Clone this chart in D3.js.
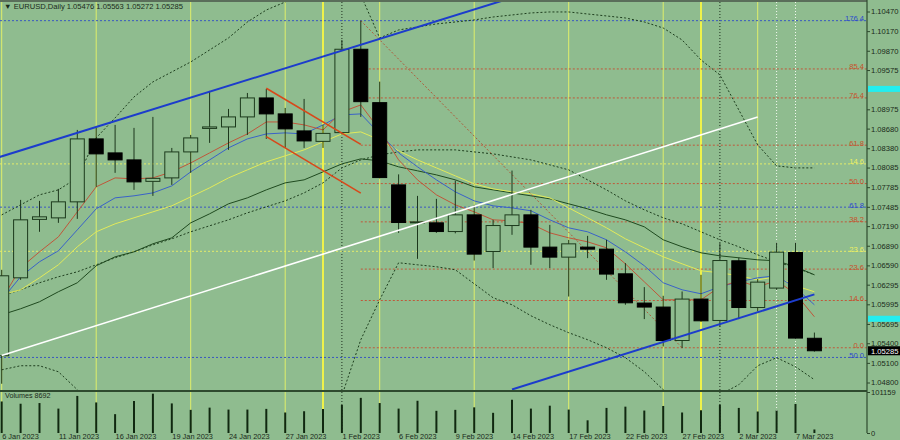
<!DOCTYPE html>
<html><head><meta charset="utf-8">
<script src="https://cdn.jsdelivr.net/npm/d3@7"></script>
<style>body{margin:0;background:#8fbc8f;overflow:hidden}svg{display:block}text{font-family:"Liberation Sans",Arial,sans-serif}</style>
</head><body><svg id="c" width="900" height="440"></svg>
<script>
// ---------- data ----------
const dates = ['6 Jan 2023','9 Jan 2023','10 Jan 2023','11 Jan 2023','12 Jan 2023','13 Jan 2023','16 Jan 2023','17 Jan 2023','18 Jan 2023','19 Jan 2023','20 Jan 2023','23 Jan 2023','24 Jan 2023','25 Jan 2023','26 Jan 2023','27 Jan 2023','30 Jan 2023','31 Jan 2023','1 Feb 2023','2 Feb 2023','3 Feb 2023','6 Feb 2023','7 Feb 2023','8 Feb 2023','9 Feb 2023','10 Feb 2023','13 Feb 2023','14 Feb 2023','15 Feb 2023','16 Feb 2023','17 Feb 2023','20 Feb 2023','21 Feb 2023','22 Feb 2023','23 Feb 2023','24 Feb 2023','27 Feb 2023','28 Feb 2023','1 Mar 2023','2 Mar 2023','3 Mar 2023','6 Mar 2023','7 Mar 2023','8 Mar 2023'];
const open  = [1.05209,1.06400,1.07293,1.07316,1.07561,1.08523,1.08309,1.08202,1.07874,1.07927,1.08324,1.08683,1.08706,1.08859,1.09149,1.08905,1.08645,1.08485,1.08619,1.09893,1.09077,1.07820,1.07248,1.07240,1.07107,1.07362,1.06802,1.07199,1.07362,1.06869,1.06716,1.06869,1.06838,1.06461,1.06014,1.05953,1.05442,1.06075,1.05748,1.06660,1.05946,1.06243,1.06786,1.05476];
const high  = [1.06522,1.07591,1.07576,1.07759,1.08660,1.08691,1.08737,1.08691,1.08859,1.08385,1.08584,1.09256,1.08981,1.09225,1.09286,1.08996,1.09134,1.08737,1.10035,1.10330,1.09398,1.07981,1.07652,1.07607,1.07886,1.07515,1.07286,1.08039,1.07439,1.07209,1.06980,1.07041,1.06980,1.06625,1.06258,1.06125,1.06191,1.06446,1.06930,1.06710,1.06380,1.06939,1.06939,1.05563];
const low   = [1.04781,1.06369,1.07103,1.07240,1.07301,1.07790,1.08004,1.07744,1.07652,1.07820,1.08004,1.08462,1.08355,1.08584,1.08523,1.08385,1.08385,1.08385,1.08599,1.08859,1.07920,1.07087,1.06690,1.07087,1.07080,1.06664,1.06548,1.07057,1.06599,1.06548,1.06114,1.06701,1.06369,1.05988,1.05769,1.05351,1.05326,1.05728,1.05656,1.05769,1.05885,1.06217,1.05468,1.05272];
const close = [1.06431,1.07286,1.07332,1.07561,1.08523,1.08294,1.08202,1.07866,1.07920,1.08324,1.08538,1.08706,1.08859,1.09149,1.08905,1.08676,1.08492,1.08607,1.09893,1.09092,1.07932,1.07245,1.07255,1.07107,1.07362,1.06762,1.07199,1.07362,1.06869,1.06716,1.06919,1.06838,1.06457,1.06018,1.05953,1.05442,1.06075,1.05743,1.06664,1.05946,1.06334,1.06792,1.05479,1.05285];
const volume = [77800,72200,73900,60200,91500,75400,46500,78700,97000,73000,57100,62600,57800,57800,59500,50600,53700,59500,69100,86700,73900,60200,79500,54700,57100,63300,49800,81900,60200,67400,57800,31300,61900,65000,55400,66700,50600,56100,69800,61900,53000,55400,71500,8692];

const maRed    = [1.06064,1.06553,1.06797,1.07026,1.07408,1.07790,1.07927,1.07912,1.07927,1.08019,1.08156,1.08309,1.08462,1.08599,1.08782,1.08782,1.08737,1.08660,1.08935,1.09042,1.08660,1.08202,1.07897,1.07668,1.07515,1.07408,1.07286,1.07271,1.07225,1.07087,1.07011,1.06950,1.06858,1.06614,1.06339,1.06064,1.06064,1.06064,1.06263,1.06355,1.06263,1.06355,1.06156,1.05805];
const maBlue   = [1.06064,1.06416,1.06645,1.06813,1.07133,1.07454,1.07622,1.07653,1.07698,1.07805,1.08019,1.08202,1.08386,1.08523,1.08599,1.08615,1.08599,1.08737,1.08890,1.08905,1.08599,1.08309,1.08096,1.07897,1.07714,1.07576,1.07500,1.07469,1.07424,1.07286,1.07164,1.07103,1.06981,1.06797,1.06584,1.06324,1.06217,1.06156,1.06263,1.06339,1.06400,1.06431,1.06248,1.05988];
const maYellow = [1.06141,1.06217,1.06400,1.06599,1.06874,1.07103,1.07225,1.07317,1.07408,1.07500,1.07637,1.07775,1.07927,1.08050,1.08172,1.08264,1.08355,1.08477,1.08599,1.08630,1.08508,1.08340,1.08202,1.08080,1.07958,1.07836,1.07760,1.07714,1.07683,1.07622,1.07469,1.07317,1.07164,1.06996,1.06858,1.06721,1.06614,1.06507,1.06477,1.06431,1.06370,1.06416,1.06278,1.06187];
const maGreen  = [1.05835,1.05927,1.06034,1.06187,1.06324,1.06584,1.06721,1.06797,1.06920,1.07011,1.07240,1.07378,1.07531,1.07622,1.07744,1.07851,1.07897,1.08019,1.08141,1.08218,1.08187,1.08096,1.08035,1.07973,1.07897,1.07790,1.07744,1.07698,1.07653,1.07607,1.07531,1.07454,1.07363,1.07286,1.07179,1.06981,1.06874,1.06782,1.06736,1.06706,1.06675,1.06660,1.06568,1.06446];
const maSlow   = [1.06126,1.06217,1.06324,1.06416,1.06492,1.06599,1.06706,1.06797,1.06904,1.06996,1.07103,1.07195,1.07286,1.07393,1.07485,1.07576,1.07698,1.07851,1.08080,1.08202,1.08279,1.08324,1.08355,1.08355,1.08355,1.08324,1.08294,1.08248,1.08202,1.08126,1.08050,1.07897,1.07744,1.07576,1.07439,1.07317,1.07225,1.07103,1.06981,1.06874,1.06751,1.06645,1.06553,1.06446];
const bandUpper= [1.07362,1.07515,1.07668,1.07744,1.07927,1.08538,1.08844,1.09164,1.09394,1.09546,1.09699,1.09882,1.10066,1.10310,1.10493,1.10615,1.10799,1.10875,1.10951,1.10722,1.10066,1.10188,1.10234,1.10280,1.10310,1.10341,1.10386,1.10417,1.10448,1.10463,1.10463,1.10432,1.10402,1.10371,1.10310,1.10218,1.10035,1.09730,1.09501,1.08966,1.08432,1.08111,1.08080,1.08080];
const bandLower= [1.04994,1.05056,1.05056,1.04964,1.04690,1.0440,1.0435,1.0430,1.0425,1.0420,1.0418,1.0418,1.0420,1.0425,1.0430,1.0435,1.0440,1.0450,1.04600,1.05454,1.06064,1.06630,1.06599,1.06569,1.06523,1.06309,1.06095,1.05988,1.05820,1.05683,1.05561,1.05454,1.05331,1.05179,1.04965,1.04690,1.0450,1.0450,1.04614,1.04766,1.05056,1.05179,1.05041,1.04843];

const priceTicks = [1.10470,1.10170,1.09870,1.09575,1.08975,1.08680,1.08380,1.08085,1.07785,1.07485,1.07190,1.06890,1.06590,1.06295,1.05995,1.05695,1.05400,1.05100,1.04800];
const dateTickIdx = [0,3,6,9,12,15,18,21,24,27,30,33,36,39,42];
const yellowSepIdx = [0,5,10,15,20,25,30,35,40];
const brightSepIdx = [17,37];
const monthSepIdx = [18,38];
const whiteSepIdx = [41,42];

const fibRedLabels = ['0.0','14.6','23.6','38.2','50.0','61.8','76.4','85.4'];
const fibRedPrices = [1.05331,1.06053,1.06533,1.07255,1.07840,1.08427,1.09149,1.09592];
const fibBlueLabels = ['176.4','61.8','50.0'];
const fibBluePrices = [1.10330,1.07480,1.05183];
const fibYellowLabels = ['14.6','23.6'];
const fibYellowPrices = [1.08141,1.06805];

const channelTop = [[-1,1.08166],[27,1.10681]];
const channelBottom = [[27,1.04693],[43,1.06147]];
const whiteLine = [[0,1.05212],[40,1.08859]];
const redUpper = [[14,1.09297],[19,1.08440]];
const redLower = [[14,1.08558],[19,1.07694]];
const fibDiagonal = [[19,1.10330],[36,1.05331]];
const markerPrices = [1.09287,1.05774];
const lastPrice = 1.05285;
const volMax = 101159;

// ---------- drawing ----------
const svg = d3.select('#c');
const W = 900, H = 440, AX = 867;
svg.append('rect').attr('width',W).attr('height',H).attr('fill','#8fbc8f');
const defs = svg.append('defs');
defs.append('clipPath').attr('id','cm').append('rect').attr('x',0).attr('y',2).attr('width',AX).attr('height',388);
defs.append('clipPath').attr('id','cv').append('rect').attr('x',0).attr('y',392).attr('width',AX).attr('height',42);

const x = d3.scaleLinear().domain([0,43]).range([1.7,814.4]);
const y = d3.scaleLinear().domain([1.04800,1.10470]).range([382.5,11.5]);
const yv = d3.scaleLinear().domain([0,volMax]).range([433,392]);

// vertical separators
const seps = svg.append('g');
function vsep(idx, color, w, dash){
  seps.selectAll(null).data(idx).join('line')
    .attr('x1',d=>x(d)).attr('x2',d=>x(d)).attr('y1',2).attr('y2',433)
    .attr('stroke',color).attr('stroke-width',w).attr('stroke-dasharray',dash||null);
}
vsep(yellowSepIdx,'#dfef6a',1);
vsep(brightSepIdx,'#eef24a',2);
vsep(monthSepIdx,'#1e2e1e',1,'1,2');
vsep(whiteSepIdx,'#f4f8f0',1,'1,2');

const main = svg.append('g').attr('clip-path','url(#cm)');

// fib horizontal levels
function fibSet(prices, color, x0){
  main.selectAll(null).data(prices).join('line')
    .attr('x1',x0).attr('x2',AX).attr('y1',d=>y(d)).attr('y2',d=>y(d))
    .attr('stroke',color).attr('stroke-width',1).attr('stroke-dasharray','2,2');
}
fibSet(fibBluePrices,'#3a58c0',0);
fibSet(fibYellowPrices,'#e4ec6a',0);
fibSet(fibRedPrices,'#c0583a',x(19));

// indicator lines
const line = d3.line().x((d,i)=>x(i)).y(d=>y(d));
function ind(arr,color,w,dash){
  main.append('path').datum(arr).attr('d',line).attr('fill','none')
    .attr('stroke',color).attr('stroke-width',w).attr('stroke-dasharray',dash||null);
}
ind(bandUpper,'#1e3e1e',1,'2,2');
ind(bandLower,'#1e3e1e',1,'2,2');
ind(maSlow,'#1e3e1e',1,'2,2');
ind(maGreen,'#1f4a1f',1);
ind(maYellow,'#e2ea5a',1);
ind(maBlue,'#3a62c8',1);
ind(maRed,'#c0563a',1);

// fib diagonal
const seg = d3.line().x(d=>x(d[0])).y(d=>y(d[1]));
main.append('path').datum(fibDiagonal).attr('d',seg).attr('stroke','#b05a3a').attr('stroke-dasharray','2,2').attr('fill','none');

// candles
const bw = 14;
const cg = main.append('g');
cg.selectAll('line.w').data(d3.range(open.length)).join('line')
  .attr('x1',i=>x(i)).attr('x2',i=>x(i)).attr('y1',i=>y(high[i])).attr('y2',i=>y(low[i]))
  .attr('stroke','#1c361c').attr('stroke-width',1);
cg.selectAll('rect').data(d3.range(open.length)).join('rect')
  .attr('x',i=>x(i)-bw/2).attr('width',bw)
  .attr('y',i=>y(Math.max(open[i],close[i])))
  .attr('height',i=>Math.max(1,Math.abs(y(open[i])-y(close[i]))))
  .attr('fill',i=>close[i]<open[i]?'#000':'#8fbc8f')
  .attr('stroke',i=>close[i]<open[i]?'#000':'#1c3a1c').attr('stroke-width',1);

// trend lines
function tl(d,color,w){ main.append('path').datum(d).attr('d',seg).attr('stroke',color).attr('stroke-width',w).attr('fill','none'); }
tl(whiteLine,'#ffffff',1.6);
tl(channelTop,'#1c3ccc',2);
tl(channelBottom,'#1c3ccc',2);
tl(redUpper,'#d8481a',1.6);
tl(redLower,'#d8481a',1.6);

// fib labels
function fibLab(labels, prices, color){
  svg.selectAll(null).data(prices).join('text')
    .attr('x',864).attr('y',d=>y(d)+0.5).attr('text-anchor','end')
    .attr('font-size',7.6).attr('fill',color).text((d,i)=>labels[i]);
}
fibLab(fibRedLabels,fibRedPrices,'#c8502a');
fibLab(fibBlueLabels,fibBluePrices,'#2a48d0');
fibLab(fibYellowLabels,fibYellowPrices,'#eef060');

// volume panel
const vg = svg.append('g').attr('clip-path','url(#cv)');
vg.selectAll('line').data(volume).join('line')
  .attr('x1',(d,i)=>x(i)).attr('x2',(d,i)=>x(i)).attr('y1',d=>yv(d)).attr('y2',yv(0))
  .attr('stroke','#102810').attr('stroke-width',2);

// frames
svg.append('line').attr('x1',0).attr('x2',AX).attr('y1',1).attr('y2',1).attr('stroke','#5a6e5a').attr('stroke-width',2);
svg.append('line').attr('x1',0).attr('x2',AX).attr('y1',391).attr('y2',391).attr('stroke','#2e4a2e').attr('stroke-width',2);
svg.append('line').attr('x1',AX).attr('x2',AX).attr('y1',0).attr('y2',433).attr('stroke','#2e4a2e').attr('stroke-width',1.2);

// axes
const ya = svg.append('g').attr('transform',`translate(${AX},0)`)
  .call(d3.axisRight(y).tickValues(priceTicks).tickSize(3).tickPadding(1).tickFormat(d=>d.toFixed(5)));
ya.select('.domain').remove();
ya.selectAll('line').attr('stroke','#2e4a2e');
ya.selectAll('text').attr('font-size',7.6).attr('fill','#1a2a1a').attr('font-family','Liberation Sans, Arial');

// markers on price axis
svg.selectAll('rect.mk').data(markerPrices).join('rect').attr('class','mk')
  .attr('x',AX+1).attr('width',W-AX).attr('y',d=>y(d)-3).attr('height',6).attr('fill','#22eef0');
svg.append('rect').attr('x',AX+1).attr('width',W-AX).attr('y',y(lastPrice)-4.5).attr('height',9).attr('fill','#000');
svg.append('text').attr('x',AX+4).attr('y',y(lastPrice)+3).attr('font-size',7.6).attr('fill','#fff').text(lastPrice.toFixed(5));

const va = svg.append('g').attr('transform',`translate(${AX},0)`)
  .call(d3.axisRight(yv).tickValues([0,volMax]).tickSize(3).tickPadding(1).tickFormat(d3.format('d')));
va.select('.domain').remove();
va.selectAll('line').attr('stroke','#2e4a2e');
va.selectAll('text').attr('font-size',7.6).attr('fill','#1a2a1a').attr('font-family','Liberation Sans, Arial');

const xa = svg.append('g').attr('transform','translate(0,433)')
  .call(d3.axisBottom(x).tickValues(dateTickIdx).tickSize(0).tickPadding(0).tickFormat(i=>dates[i]));
xa.select('.domain').remove();
xa.selectAll('text').attr('font-size',7.4).attr('fill','#1a2a1a').attr('text-anchor','start')
  .attr('dy',null).attr('y',6.3).attr('font-family','Liberation Sans, Arial');

// header texts
svg.append('text').attr('x',4).attr('y',9).attr('font-size',7.6).attr('fill','#1a2a1a')
  .text('\u25BC EURUSD,Daily  '+[open[43],high[43],low[43],close[43]].map(v=>v.toFixed(5)).join(' '));
svg.append('text').attr('x',5).attr('y',398).attr('font-size',7.2).attr('fill','#1a2a1a')
  .text('Volumes '+volume[43]);
</script></body></html>
